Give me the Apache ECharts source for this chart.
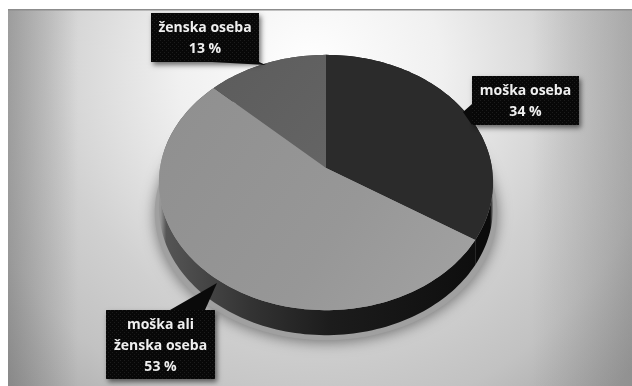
<!DOCTYPE html>
<html>
<head>
<meta charset="utf-8">
<style>html,body{margin:0;padding:0;background:#fff}#chart{width:632px;height:386px}</style>
<script src="https://cdn.jsdelivr.net/npm/echarts@6/dist/echarts.min.js"></script>
</head>
<body>
<div id="chart"></div>
<script>
// Share of persons by gender, drawn as a tilted 3D pie
const sliceLines = [['moška oseba'], ['moška ali', 'ženska oseba'], ['ženska oseba']];
const sliceValues = [34, 53, 13];

// Perspective projection of the unit disc
const apex = { x: 326, y: 168 };
const radiusX = 166, radiusY = 126, tiltY = -0.1137, depth = 25;

// Callout boxes: [x, y, width, height] and the pointer triangle
const callouts = [
  { box: [472, 76, 107, 49], tip: [[472, 104], [463, 112], [472, 125]] },
  { box: [106, 310, 109, 69], tip: [[170, 310], [217, 283], [205, 310]] },
  { box: [151, 13, 108, 49], tip: [[212, 62], [266, 65], [259, 62]] }
];

const topFill = [
  '#2b2b2b',
  new echarts.graphic.LinearGradient(160, 90, 470, 300, [
    { offset: 0, color: '#8f8f8f' }, { offset: 0.6, color: '#979797' }, { offset: 1, color: '#a2a2a2' }
  ], true),
  new echarts.graphic.LinearGradient(210, 60, 326, 160, [
    { offset: 0, color: '#5c5c5c' }, { offset: 1, color: '#646464' }
  ], true)
];
// The rim fades into the lit shadow at both far ends of the disc
const sideFill = [
  new echarts.graphic.LinearGradient(470, 0, 496, 0, [
    { offset: 0, color: '#0b0b0b' }, { offset: 0.78, color: '#0b0b0b' },
    { offset: 0.9, color: '#9a9a9a' }, { offset: 1, color: '#9a9a9a' }
  ], true),
  new echarts.graphic.LinearGradient(155, 0, 475, 0, [
    { offset: 0, color: '#999999' }, { offset: 0.018, color: '#969696' }, { offset: 0.035, color: '#555555' },
    { offset: 0.3, color: '#333333' }, { offset: 0.55, color: '#1c1c1c' }, { offset: 1, color: '#0e0e0e' }
  ], true),
  '#3a3a3a'
];

const total = sliceValues.reduce((a, b) => a + b, 0);

function project(share) {
  const t = share * 2 * Math.PI;
  const X = Math.sin(t), Y = -Math.cos(t);
  const w = 1 + tiltY * Y;
  return [apex.x + radiusX * X / w, apex.y + radiusY * Y / w];
}

function arc(from, to) {
  const pts = [];
  const n = Math.max(8, Math.ceil((to - from) * 240));
  for (let i = 0; i <= n; i++) pts.push(project(from + (to - from) * i / n));
  return pts;
}

// A faint checker weave for the callout boxes
function weave() {
  const c = document.createElement('canvas');
  c.width = c.height = 4;
  const g = c.getContext('2d');
  g.fillStyle = '#080808';
  g.fillRect(0, 0, 4, 4);
  g.fillStyle = '#1c1c1c';
  g.fillRect(0, 0, 1, 1);
  g.fillRect(2, 2, 1, 1);
  return { image: c, repeat: 'repeat' };
}
const boxFill = weave();

function renderSlice(params, api) {
  const i = params.dataIndex;
  const value = api.value(0);
  const start = sliceValues.slice(0, i).reduce((a, b) => a + b, 0) / total;
  const end = start + value / total;
  const rim = arc(start, end);
  const lowered = rim.map(p => [p[0], p[1] + depth]).reverse();
  const children = [];

  if (i === 0) {
    // Soft cast shadow beneath the whole disc, slightly wider than the rim
    children.push({
      type: 'polygon', z2: 1,
      shape: {
        points: arc(0, 1).map(p => [apex.x + (p[0] - apex.x) * 1.025, p[1] + depth + 5])
      },
      style: { fill: '#a0a0a0', shadowBlur: 14, shadowColor: 'rgba(0,0,0,0.45)', shadowOffsetY: 2 }
    });
  }
  children.push({
    type: 'polygon', z2: 2,
    shape: { points: rim.concat(lowered) },
    style: { fill: sideFill[i] }
  });
  children.push({
    type: 'polygon', z2: 3,
    shape: { points: [[apex.x, apex.y]].concat(rim) },
    style: { fill: topFill[i] }
  });

  const c = callouts[i];
  const lines = sliceLines[i].concat([value + ' %']);
  const cx = c.box[0] + c.box[2] / 2;
  const lineH = 21;
  const firstY = c.box[1] + c.box[3] / 2 + 1.5 - (lines.length - 1) * lineH / 2;
  children.push({
    type: 'rect', z2: 4,
    shape: { x: c.box[0], y: c.box[1], width: c.box[2], height: c.box[3] },
    style: { fill: '#0a0a0a', shadowBlur: 5, shadowOffsetX: 2, shadowOffsetY: 3, shadowColor: 'rgba(0,0,0,0.55)' }
  });
  children.push({
    type: 'rect', z2: 5,
    shape: { x: c.box[0], y: c.box[1], width: c.box[2], height: c.box[3] },
    style: { fill: boxFill }
  });
  children.push({ type: 'polygon', z2: 5, shape: { points: c.tip }, style: { fill: '#0a0a0a' } });
  lines.forEach((line, k) => {
    children.push({
      type: 'text', z2: 6,
      style: {
        x: cx, y: firstY + k * lineH, text: line, align: 'center', verticalAlign: 'middle',
        fill: '#efefef', font: '700 14px "Open Sans"'
      }
    });
  });
  return { type: 'group', children };
}

const chart = echarts.init(document.getElementById('chart'), null, { renderer: 'canvas' });
chart.setOption({
  animation: false,
  backgroundColor: '#ffffff',
  graphic: [
    {
      type: 'rect', z: -2, silent: true,
      shape: { x: 8, y: 9, width: 624, height: 377 },
      style: {
        fill: new echarts.graphic.RadialGradient(310, 70, 440, [
          { offset: 0, color: '#ffffff' }, { offset: 0.3, color: '#f0f0f0' },
          { offset: 0.6, color: '#d0d0d0' }, { offset: 0.8, color: '#c2c2c2' },
          { offset: 1, color: '#a6a6a6' }
        ], true)
      }
    },
    {
      type: 'rect', z: -1, silent: true,
      shape: { x: 8, y: 9, width: 70, height: 377 },
      style: {
        fill: new echarts.graphic.LinearGradient(8, 0, 78, 0, [
          { offset: 0, color: 'rgba(90,90,90,0.4)' }, { offset: 1, color: 'rgba(90,90,90,0)' }
        ], true)
      }
    },
    {
      type: 'rect', z: -1, silent: true,
      shape: { x: 532, y: 9, width: 100, height: 377 },
      style: {
        fill: new echarts.graphic.LinearGradient(532, 0, 632, 0, [
          { offset: 0, color: 'rgba(90,90,90,0)' }, { offset: 1, color: 'rgba(90,90,90,0.28)' }
        ], true)
      }
    },
    {
      type: 'rect', z: -1, silent: true,
      shape: { x: 8, y: 9, width: 624, height: 1.5 },
      style: { fill: '#8c8c8c' }
    }
  ],
  series: [{
    type: 'custom',
    coordinateSystem: 'none',
    silent: true,
    renderItem: renderSlice,
    data: sliceValues.map(v => [v])
  }]
});
</script>
</body>
</html>
